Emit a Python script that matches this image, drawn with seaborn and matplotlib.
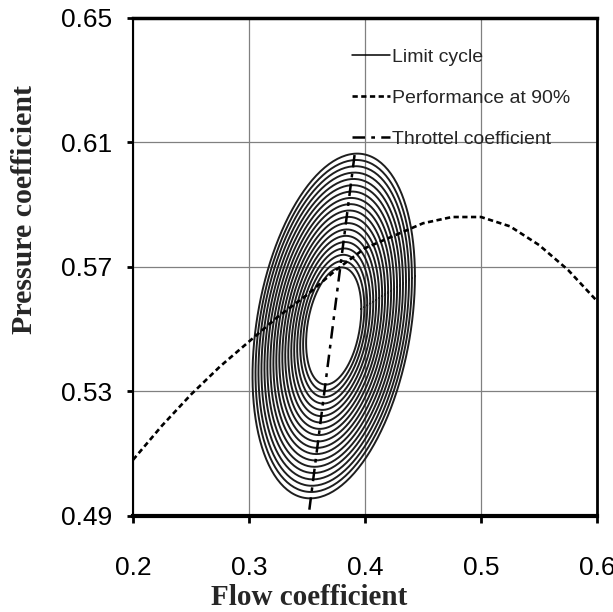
import matplotlib
matplotlib.use("Agg")
import matplotlib.pyplot as plt
import numpy as np
import pandas as pd
import seaborn as sns

# ======== data =============================================
# limit cycle: tilted ellipses, centre and outer-ring geometry
cycle_center = (0.373, 0.551)
cycle_half_x = 0.070      # half width of outer ring (flow)
cycle_half_y = 0.053      # vertical half axis of outer ring
cycle_tilt = 0.016        # pressure shift at the left/right extremes
ring_scale = [0.34, 0.377, 0.413, 0.45, 0.487, 0.523, 0.56, 0.597, 0.633, 0.67,
              0.707, 0.743, 0.78, 0.817, 0.853, 0.89, 0.927, 0.963, 1.0]

# performance at 90 %
perf_flow = [0.2, 0.225, 0.25, 0.275, 0.3, 0.325, 0.35, 0.375, 0.4, 0.425,
             0.45, 0.475, 0.5, 0.525, 0.55, 0.575, 0.6]
perf_press = [0.508, 0.519, 0.529, 0.538, 0.546, 0.554, 0.561, 0.569, 0.576, 0.580,
              0.584, 0.586, 0.586, 0.583, 0.577, 0.569, 0.559]

# throttle line
throttle_flow = [0.352, 0.391]
throttle_press = [0.492, 0.606]

x_ticks = [0.2, 0.3, 0.4, 0.5, 0.6]
y_ticks = [0.49, 0.53, 0.57, 0.61, 0.65]

# ======== build ring table =================================
t = np.linspace(0, 2 * np.pi, 240)
rows = []
for i, s in enumerate(ring_scale):
    xs = cycle_center[0] + s * cycle_half_x * np.cos(t)
    ys = cycle_center[1] + s * (cycle_half_y * np.sin(t) + cycle_tilt * np.cos(t))
    rows.append(pd.DataFrame({"ring": i, "step": np.arange(len(t)), "flow": xs, "press": ys}))
rings = pd.concat(rows, ignore_index=True)

perf = pd.DataFrame({"flow": perf_flow, "press": perf_press})
thr = pd.DataFrame({"flow": throttle_flow, "press": throttle_press})

# ======== plot =============================================
sns.set_theme(style="ticks")
plt.rcParams["font.family"] = ["Liberation Sans", "DejaVu Sans"]

fig = plt.figure(figsize=(6.13, 6.12), dpi=100)
ax = fig.add_axes([0.217, 0.157, 0.757, 0.814])

ax.grid(True, color="#808080", linewidth=0.9)
ax.set_axisbelow(True)

sns.lineplot(data=rings, x="flow", y="press", units="ring", estimator=None, sort=False,
             color="#1e1e1e", linewidth=1.4, ax=ax, legend=False)
sns.lineplot(data=thr, x="flow", y="press", color="black", linewidth=1.8,
             dashes=False, ax=ax, legend=False)
ax.lines[-1].set_dashes((5, 2.5, 1.5, 2.5))
sns.lineplot(data=perf, x="flow", y="press", color="black", linewidth=1.9,
             sort=False, ax=ax, legend=False)
ax.lines[-1].set_dashes((2, 1.3))

ax.set_xlim(0.2, 0.6)
ax.set_ylim(0.49, 0.65)
ax.set_xticks(x_ticks)
ax.set_yticks(y_ticks)
ax.set_xticklabels([f"{v:.1f}" for v in x_ticks])
ax.set_yticklabels([f"{v:.2f}" for v in y_ticks])
ax.tick_params(axis="x", direction="out", length=5, width=2, pad=24, labelsize=19, colors="black")
ax.tick_params(axis="y", direction="out", length=4, width=2, pad=11, labelsize=19, colors="black")

for side, lw in [("bottom", 3.0), ("top", 2.5), ("left", 1.5), ("right", 2.0)]:
    ax.spines[side].set_visible(True)
    ax.spines[side].set_linewidth(lw)
    ax.spines[side].set_color("black")

serif = ["Liberation Serif", "DejaVu Serif"]
ax.set_xlabel("Flow coefficient", family=serif, fontweight="bold", fontsize=21)
ax.set_ylabel("Pressure coefficient", family=serif, fontweight="bold", fontsize=21.5)
ax.xaxis.set_label_coords(0.38, -0.137)
ax.yaxis.set_label_coords(-0.205, 0.615)

# legend
h_cycle = plt.Line2D([], [], color="black", linewidth=1.1)
h_perf = plt.Line2D([], [], color="black", linewidth=1.9, dashes=(2, 1.3))
h_thr = plt.Line2D([], [], color="black", linewidth=1.8, dashes=(5, 2.5, 1.5, 2.5))
ax.legend([h_cycle, h_perf, h_thr],
          ["Limit cycle", "Performance at 90%", "Throttel coefficient"],
          loc="upper left", bbox_to_anchor=(0.472, 0.938), frameon=False,
          fontsize=14, handlelength=1.95, handletextpad=0.1, labelspacing=1.2,
          borderaxespad=0, borderpad=0)

plt.savefig("out.png", dpi=100)
plt.close()
